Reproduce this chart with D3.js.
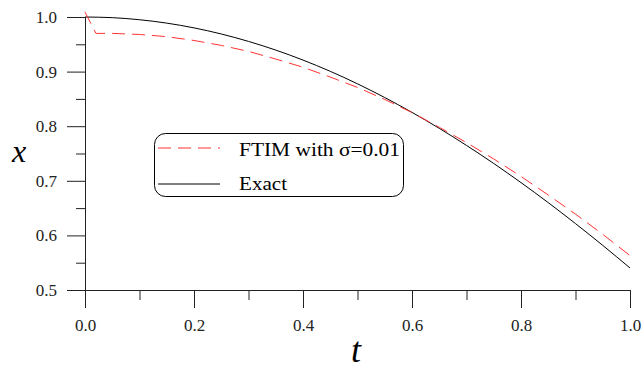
<!DOCTYPE html>
<html><head><meta charset="utf-8">
<script src="https://cdn.jsdelivr.net/npm/d3@7"></script>
<style>body{margin:0;background:#fff}svg{display:block}</style>
</head><body>
<svg id="c" width="643" height="370"></svg>
<script>
const tValues = [0, 0.02, 0.05, 0.1, 0.15, 0.2, 0.25, 0.3, 0.35, 0.4, 0.45, 0.5, 0.55, 0.6, 0.65, 0.7, 0.75, 0.8, 0.85, 0.9, 0.95, 1.0];
const ftimValues = [1.009, 0.970, 0.970, 0.968, 0.964, 0.957, 0.948, 0.937, 0.923, 0.908, 0.890, 0.871, 0.849, 0.825, 0.798, 0.770, 0.740, 0.708, 0.674, 0.639, 0.602, 0.563];
const exactT = [0, 0.05, 0.1, 0.15, 0.2, 0.25, 0.3, 0.35, 0.4, 0.45, 0.5, 0.55, 0.6, 0.65, 0.7, 0.75, 0.8, 0.85, 0.9, 0.95, 1.0];
const exactValues = [1.0, 0.9988, 0.995, 0.9888, 0.9801, 0.9689, 0.9553, 0.9394, 0.9211, 0.9005, 0.8776, 0.8525, 0.8253, 0.7961, 0.7648, 0.7317, 0.6967, 0.66, 0.6216, 0.5817, 0.5403];
const xTickLabels = ["0.0", "0.2", "0.4", "0.6", "0.8", "1.0"];
const yTickLabels = ["0.5", "0.6", "0.7", "0.8", "0.9", "1.0"];
const legendLabels = ["FTIM with \u03c3=0.01", "Exact"];

const svg = d3.select("#c");
const FONT = "Liberation Serif";
const x = d3.scaleLinear().domain([0, 1]).range([85, 630]);
const y = d3.scaleLinear().domain([0.5, 1.0]).range([290, 17]);
const axisCol = "#222";

// y axis
const yMajor = yTickLabels.map(Number);
const yMinor = d3.range(0.55, 1.0, 0.1);
const gy = svg.append("g").attr("transform", "translate(85,0)");
gy.call(d3.axisLeft(y).tickValues(yMajor).tickSize(18).tickSizeOuter(0).tickFormat((d,i)=>yTickLabels[i]).tickPadding(10));
gy.append("g").call(d3.axisLeft(y).tickValues(yMinor).tickSize(9).tickFormat(""));
// x axis
const xMajor = xTickLabels.map(Number);
const xMinor = d3.range(0.1, 1.0, 0.2);
const gx = svg.append("g").attr("transform", "translate(0,290)");
gx.call(d3.axisBottom(x).tickValues(xMajor).tickSize(18).tickSizeOuter(0).tickFormat((d,i)=>xTickLabels[i]).tickPadding(11));
gx.append("g").call(d3.axisBottom(x).tickValues(xMinor).tickSize(10).tickFormat(""));
svg.selectAll("g").attr("font-family", FONT);
svg.selectAll(".domain").attr("stroke", axisCol);
svg.selectAll(".tick line").attr("stroke", axisCol);
svg.selectAll(".tick text").style("font-family", FONT).style("font-size", "17px").attr("fill", "#222");
gx.selectAll(".tick text").attr("dy", "0.71em");

// lines
const exactData = exactT.map((t,i)=>[t, exactValues[i]]);
const ftimData = tValues.map((t,i)=>[t, ftimValues[i]]);
const line = d3.line().x(d=>x(d[0])).y(d=>y(d[1])).curve(d3.curveMonotoneX);
svg.append("path").datum(exactData).attr("d", line).attr("fill","none").attr("stroke","#000").attr("stroke-width",1);
svg.append("path").datum(ftimData).attr("d", d3.line().x(d=>x(d[0])).y(d=>y(d[1]))).attr("fill","none").attr("stroke","#f33").attr("stroke-width",1).attr("stroke-dasharray","13,7");

// axis titles
svg.append("text").attr("x", 19).attr("y", 162).attr("text-anchor","middle").style("font-family",FONT).style("font-style","italic").style("font-size","32px").text("x");
svg.append("text").attr("x", 356).attr("y", 362).attr("text-anchor","middle").style("font-family",FONT).style("font-style","italic").style("font-size","36px").text("t");

// legend
const lg = svg.append("g");
lg.append("rect").attr("x",154.5).attr("y",133.5).attr("width",249).attr("height",63).attr("rx",11).attr("fill","#fff").attr("stroke","#000").attr("stroke-width",1);
lg.append("line").attr("x1",158).attr("x2",220).attr("y1",148).attr("y2",148).attr("stroke","#f33").attr("stroke-dasharray","13,7");
lg.append("line").attr("x1",158).attr("x2",220).attr("y1",184).attr("y2",184).attr("stroke","#000");
lg.append("text").attr("x",239).attr("y",156).style("font-family",FONT).style("font-size","19px").attr("textLength",161).attr("lengthAdjust","spacingAndGlyphs").text(legendLabels[0]);
lg.append("text").attr("x",239).attr("y",190).style("font-family",FONT).style("font-size","19px").attr("textLength",48).attr("lengthAdjust","spacingAndGlyphs").text(legendLabels[1]);
</script>
</body></html>
